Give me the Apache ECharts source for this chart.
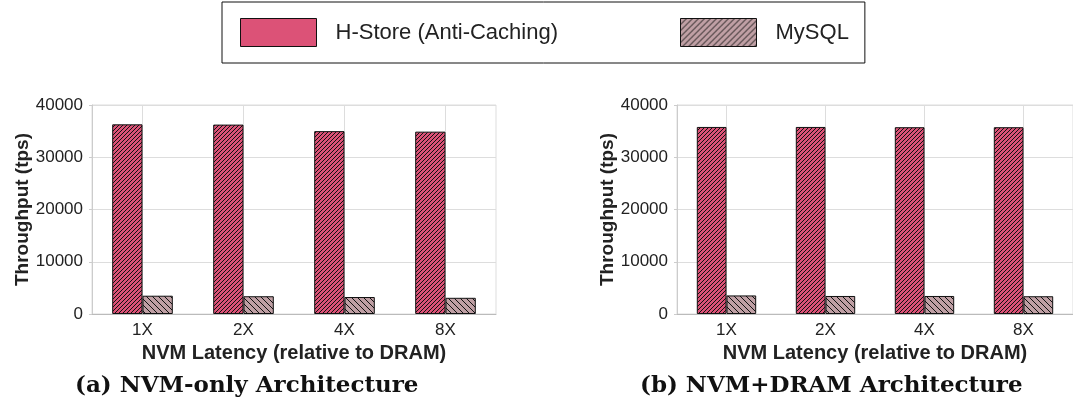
<!DOCTYPE html>
<html>
<head>
<meta charset="utf-8">
<script src="https://cdn.jsdelivr.net/npm/echarts@6/dist/echarts.min.js"></script>
<style>
  html, body { margin: 0; padding: 0; background: #fff; }
  #chart { width: 1073px; height: 407px; }
</style>
</head>
<body>
<div id="chart"></div>
<script>
// Latency multipliers relative to DRAM
const categories = ['1X', '2X', '4X', '8X'];
// Throughput (tps), NVM-only architecture
const nvmOnlyHStore = [36300, 36250, 35000, 34900];
const nvmOnlyMySQL = [3500, 3400, 3250, 3100];
// Throughput (tps), NVM+DRAM architecture
const nvmDramHStore = [35800, 35800, 35750, 35750];
const nvmDramMySQL = [3550, 3450, 3450, 3400];
const yTicks = [0, 10000, 20000, 30000, 40000];
const seriesNames = ['H-Store (Anti-Caching)', 'MySQL'];
const captions = ['(a) NVM-only Architecture', '(b) NVM+DRAM Architecture'];

const RED = '#dc5277';
const MAUVE = '#bf9fa4';

// diagonal hatch fill as a repeating canvas pattern
function hatch(bg, dir, pitch) {
  const c = document.createElement('canvas');
  c.width = pitch; c.height = pitch;
  const g = c.getContext('2d');
  g.fillStyle = bg;
  g.fillRect(0, 0, pitch, pitch);
  g.strokeStyle = '#111';
  g.lineWidth = 1;
  g.beginPath();
  if (dir === '/') {
    g.moveTo(-1, pitch + 1); g.lineTo(pitch + 1, -1);
    g.moveTo(-1, 1); g.lineTo(1, -1);
    g.moveTo(pitch - 1, pitch + 1); g.lineTo(pitch + 1, pitch - 1);
  } else {
    g.moveTo(-1, -1); g.lineTo(pitch + 1, pitch + 1);
    g.moveTo(pitch - 1, -1); g.lineTo(pitch + 1, 1);
    g.moveTo(-1, pitch - 1); g.lineTo(1, pitch + 1);
  }
  g.stroke();
  return { image: c, repeat: 'repeat' };
}

const redHatch = hatch(RED, '/', 4);
const mauveHatch = hatch(MAUVE, '\\', 6);
const mauveLegend = hatch(MAUVE, '/', 6);

const SANS = '"Liberation Sans", Arial, Helvetica, sans-serif';
const SERIF = '"DejaVu Serif", "Liberation Serif", serif';

const grids = [
  { left: 92, top: 105, width: 404, height: 209 },
  { left: 677, top: 105, width: 404, height: 209 }
];

function xAxis(i) {
  return {
    type: 'category', gridIndex: i, data: categories,
    name: 'NVM Latency (relative to DRAM)', nameLocation: 'middle', nameGap: 29,
    nameTextStyle: { fontFamily: SANS, fontWeight: 'bold', fontSize: 20, color: '#222' },
    axisLine: { show: true, lineStyle: { color: '#bbb', width: 1 } },
    axisTick: { show: false },
    axisLabel: { fontFamily: SANS, fontSize: 17, color: '#222', margin: 8 },
    splitLine: { show: true, alignWithLabel: true, lineStyle: { color: '#ddd', width: 1 } }
  };
}

function yAxis(i) {
  return {
    type: 'value', gridIndex: i, min: yTicks[0], max: yTicks[yTicks.length - 1], interval: yTicks[1] - yTicks[0],
    name: 'Throughput (tps)', nameLocation: 'middle', nameGap: 54,
    nameTextStyle: { fontFamily: SANS, fontWeight: 'bold', fontSize: 19, color: '#222' },
    axisLine: { show: true, lineStyle: { color: '#ccc', width: 1 } },
    axisTick: { show: true, length: 3, lineStyle: { color: '#ccc' } },
    axisLabel: { fontFamily: SANS, fontSize: 17, color: '#222', margin: 9, formatter: v => String(v) },
    splitLine: { show: true, lineStyle: { color: '#ddd', width: 1 } }
  };
}

function bars(name, data, fill, i) {
  return {
    type: 'bar', name: name, data: data, xAxisIndex: i, yAxisIndex: i,
    barGap: '0%', barCategoryGap: '40%',
    itemStyle: { color: fill, borderColor: '#111', borderWidth: 1 },
    emphasis: { disabled: true },
    animation: false
  };
}

const option = {
  animation: false,
  grid: grids.map(g => Object.assign({ show: true, borderColor: '#ddd', borderWidth: 1, containLabel: false }, g)),
  xAxis: [xAxis(0), xAxis(1)],
  yAxis: [yAxis(0), yAxis(1)],
  legend: {
    left: 222, top: 2,
    padding: [16, 16, 16, 18],
    itemWidth: 76, itemHeight: 28, itemGap: 122,
    borderColor: '#111', borderWidth: 1, borderRadius: 0,
    selectedMode: false,
    textStyle: { fontFamily: SANS, fontSize: 22, color: '#222', padding: [0, 0, 0, 14] },
    data: [
      { name: seriesNames[0], icon: 'rect', itemStyle: { color: RED, borderColor: '#111', borderWidth: 1 } },
      { name: seriesNames[1], icon: 'rect', itemStyle: { color: mauveLegend, borderColor: '#111', borderWidth: 1 } }
    ]
  },
  graphic: [
    { type: 'text', left: 75, top: 375, style: { text: captions[0], font: 'bold 23px ' + SERIF, fill: '#111' } },
    { type: 'text', left: 640, top: 375, style: { text: captions[1], font: 'bold 23px ' + SERIF, fill: '#111' } }
  ],
  series: [
    bars(seriesNames[0], nvmOnlyHStore, redHatch, 0),
    bars(seriesNames[1], nvmOnlyMySQL, mauveHatch, 0),
    bars(seriesNames[0], nvmDramHStore, redHatch, 1),
    bars(seriesNames[1], nvmDramMySQL, mauveHatch, 1)
  ]
};

const chart = echarts.init(document.getElementById('chart'), null, { renderer: 'canvas' });
chart.setOption(option);
</script>
</body>
</html>
